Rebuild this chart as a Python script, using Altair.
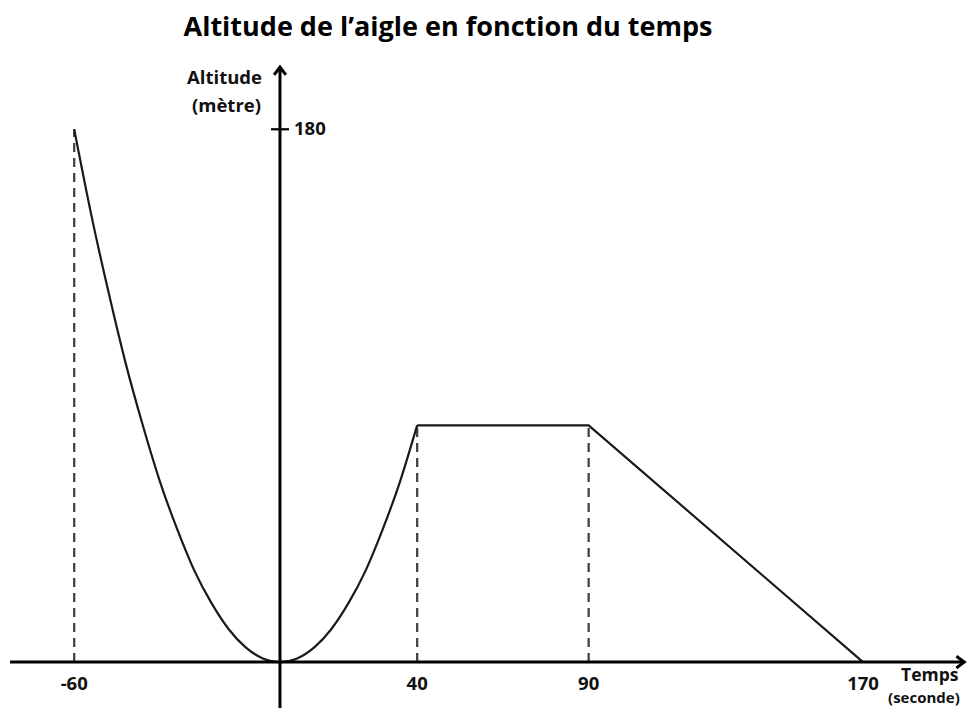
import altair as alt
import pandas as pd

# ---- data ----
curve_t = [-60, -55, -50, -45, -40, -35, -30, -25, -20, -15, -10, -5, 0,
           5, 10, 15, 20, 25, 30, 35, 40]
curve_alt = [180, 151, 125, 101, 80, 61, 45, 31, 20, 11.2, 5, 1.25, 0,
             1.25, 5, 11.2, 20, 31, 45, 61, 80]
seg_t = [40, 90, 170]
seg_alt = [80, 80, 0]

guide_t = [-60, 40, 90]
guide_alt = [180, 80, 80]

xtick_vals = [-60, 40, 90, 170]
xtick_labels = ["-60", "40", "90", "170"]
ytick_vals = [180]
ytick_labels = ["180"]

x_axis_range = [-78.7, 199.5]
y_axis_range = [-15.5, 201]

FONT = "Open Sans"
FS = 18.5

xs = alt.Scale(domain=[-79.3, 200.6], nice=False, zero=False)
ys = alt.Scale(domain=[-15.5, 203.4], nice=False, zero=False)

curve_df = pd.DataFrame({"t": curve_t, "a": curve_alt, "o": range(len(curve_t))})
seg_df = pd.DataFrame({"t": seg_t, "a": seg_alt, "o": range(len(seg_t))})
guide_df = pd.DataFrame({"t": guide_t, "a0": [0] * len(guide_t), "a": guide_alt})

xaxis_df = pd.DataFrame({"x1": [x_axis_range[0]], "x2": [x_axis_range[1]], "y": [0]})
yaxis_df = pd.DataFrame({"y1": [y_axis_range[0]], "y2": [y_axis_range[1]], "x": [0]})
xarrow_df = pd.DataFrame({"x": [x_axis_range[1]], "y": [0]})
yarrow_df = pd.DataFrame({"x": [0], "y": [y_axis_range[1]]})
xtl_df = pd.DataFrame({"x": xtick_vals, "y": [0] * len(xtick_vals), "label": xtick_labels})
ytl_df = pd.DataFrame({"x": [0] * len(ytick_vals), "y": ytick_vals, "label": ytick_labels})

X = lambda f: alt.X(f, type="quantitative", scale=xs, axis=None)
Y = lambda f: alt.Y(f, type="quantitative", scale=ys, axis=None)

guides = alt.Chart(guide_df).mark_rule(
    color="#444444", strokeWidth=2.3, strokeDash=[9, 6]
).encode(x=X("t"), y=Y("a0"), y2="a")

curve = alt.Chart(curve_df).mark_line(
    color="#1a1a1a", strokeWidth=2.2, interpolate="natural"
).encode(x=X("t"), y=Y("a"), order="o")

seg = alt.Chart(seg_df).mark_line(
    color="#1a1a1a", strokeWidth=2.2
).encode(x=X("t"), y=Y("a"), order="o")

xaxis = alt.Chart(xaxis_df).mark_rule(color="black", strokeWidth=3).encode(
    x=X("x1"), x2="x2", y=Y("y"))
yaxis = alt.Chart(yaxis_df).mark_rule(color="black", strokeWidth=3).encode(
    y=Y("y1"), y2="y2", x=X("x"))

xarrow = alt.Chart(xarrow_df).mark_point(
    shape="M-1.2,-0.9L0,0L-1.2,0.9", filled=False, color="black",
    strokeWidth=3, size=170, opacity=1
).encode(x=X("x"), y=Y("y"))
yarrow = alt.Chart(yarrow_df).mark_point(
    shape="M-0.9,1.2L0,0L0.9,1.2", filled=False, color="black",
    strokeWidth=3, size=170, opacity=1
).encode(x=X("x"), y=Y("y"))

ytick = alt.Chart(ytl_df).mark_point(
    shape="M-1,0L1,0", filled=False, color="black", strokeWidth=2.2,
    size=324, opacity=1
).encode(x=X("x"), y=Y("y"))

xtl = alt.Chart(xtl_df).mark_text(
    font=FONT, fontSize=FS, fontWeight="bold", color="#111",
    align="center", baseline="middle", dy=22
).encode(x=X("x"), y=Y("y"), text="label:N")

ytl = alt.Chart(ytl_df).mark_text(
    font=FONT, fontSize=FS, fontWeight="bold", color="#111",
    align="left", baseline="middle", dx=14
).encode(x=X("x"), y=Y("y"), text="label:N")

xtitle1 = alt.Chart(pd.DataFrame({"x": [xtick_vals[-1]], "y": [0], "t": ["Temps"]})).mark_text(
    font=FONT, fontSize=17.5, fontWeight="bold", color="#111",
    align="left", baseline="middle", dx=38, dy=14
).encode(x=X("x"), y=Y("y"), text="t:N")
xtitle2 = alt.Chart(pd.DataFrame({"x": [xtick_vals[-1]], "y": [0], "t": ["(seconde)"]})).mark_text(
    font=FONT, fontSize=15, fontWeight="bold", color="#111",
    align="left", baseline="middle", dx=25, dy=36
).encode(x=X("x"), y=Y("y"), text="t:N")

ytitle1 = alt.Chart(pd.DataFrame({"x": [0], "y": [y_axis_range[1]], "t": ["Altitude"]})).mark_text(
    font=FONT, fontSize=FS, fontWeight="bold", color="#111",
    align="right", baseline="middle", dx=-18, dy=11
).encode(x=X("x"), y=Y("y"), text="t:N")
ytitle2 = alt.Chart(pd.DataFrame({"x": [0], "y": [y_axis_range[1]], "t": ["(mètre)"]})).mark_text(
    font=FONT, fontSize=FS, fontWeight="bold", color="#111",
    align="right", baseline="middle", dx=-19, dy=39
).encode(x=X("x"), y=Y("y"), text="t:N")

chart = alt.layer(
    guides, curve, seg, xaxis, yaxis, xarrow, yarrow, ytick,
    xtl, ytl, xtitle1, xtitle2, ytitle1, ytitle2
).properties(
    width=960, height=648,
    background="white",
    title=alt.TitleParams(
        "Altitude de l’aigle en fonction du temps",
        font=FONT, fontSize=27, fontWeight="bold", color="black",
        anchor="middle", dx=-40, offset=18
    ),
    autosize=alt.AutoSizeParams(type="none"),
    padding={"left": 0, "top": 52, "right": 0, "bottom": 0},
).configure_view(strokeWidth=0, stroke="transparent")

chart.save("out.html", embed_options={"renderer": "svg", "actions": False})
